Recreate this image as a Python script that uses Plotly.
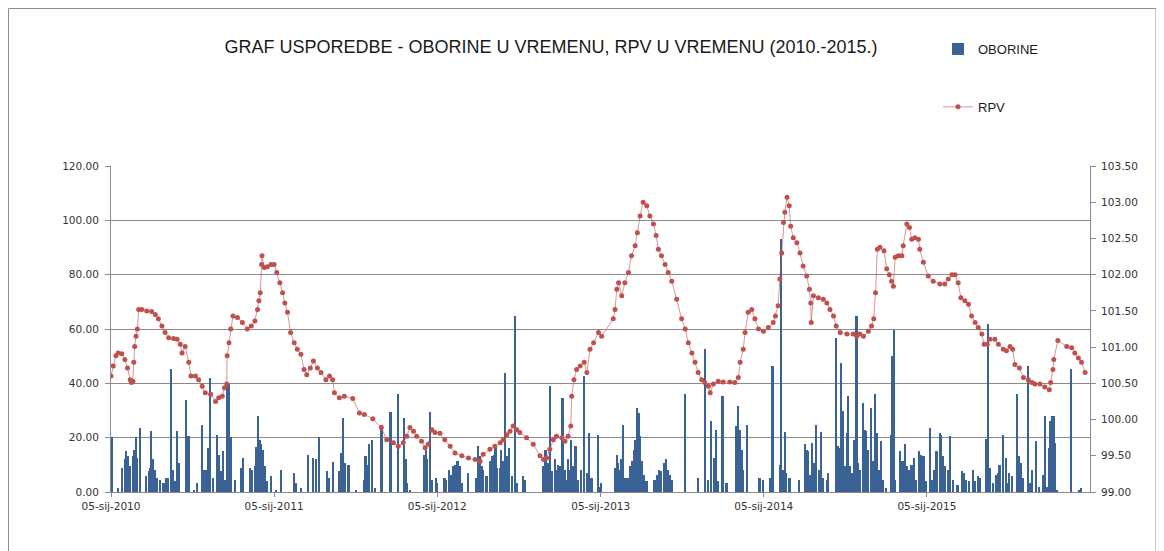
import pandas as pd
import plotly.graph_objects as go

# ---- data ----
start_date = "2010-01-05"

# RPV: day offset from start_date, value (m)
rpv_day = [0, 5, 11, 16, 24, 31, 37, 43, 46, 49, 51, 53, 56, 59, 62, 69, 80, 91, 99, 106,
           114, 121, 129, 140, 148, 155, 159, 166, 174, 179, 189, 196, 204, 211, 223, 234, 241, 249, 254, 259,
           260, 264, 268, 273, 283, 294, 305, 314, 322, 328, 331, 334, 337, 338, 343, 350, 358, 365, 371, 378,
           384, 389, 395, 402, 410, 417, 425, 432, 438, 446, 453, 462, 470, 481, 489, 496, 500, 511, 522, 541,
           556, 567, 586, 605, 617, 632, 643, 654, 662, 669, 677, 684, 695, 703, 710, 718, 725, 736, 747, 759,
           770, 785, 800, 815, 826, 833, 848, 859, 871, 878, 886, 893, 900, 908, 915, 930, 945, 960, 968, 975,
           982, 990, 997, 1009, 1016, 1023, 1029, 1031, 1036, 1042, 1050, 1059, 1065, 1072, 1080, 1091, 1098, 1124, 1128, 1132,
           1136, 1143, 1150, 1158, 1165, 1173, 1178, 1184, 1191, 1199, 1206, 1214, 1220, 1225, 1232, 1240, 1247, 1255, 1266, 1277,
           1285, 1292, 1300, 1307, 1314, 1322, 1329, 1337, 1341, 1348, 1359, 1370, 1385, 1396, 1404, 1408, 1415, 1419, 1426, 1434,
           1441, 1449, 1460, 1471, 1482, 1487, 1493, 1497, 1501, 1505, 1508, 1513, 1518, 1521, 1527, 1535, 1542, 1549, 1557, 1563,
           1566, 1567, 1572, 1583, 1594, 1602, 1609, 1617, 1623, 1632, 1647, 1661, 1669, 1676, 1684, 1695, 1702, 1707, 1711, 1715,
           1721, 1730, 1736, 1742, 1747, 1751, 1755, 1762, 1770, 1773, 1781, 1787, 1792, 1799, 1807, 1810, 1818, 1829, 1840, 1855,
           1866, 1874, 1882, 1889, 1896, 1902, 1911, 1919, 1926, 1934, 1941, 1949, 1954, 1961, 1967, 1978, 1986, 1997, 2004, 2012,
           2018, 2023, 2033, 2042, 2053, 2061, 2068, 2079, 2090, 2100, 2103, 2108, 2110, 2119, 2139, 2150, 2157, 2165, 2172, 2180]
rpv_val = [100.60, 100.74, 100.88, 100.92, 100.91, 100.83, 100.71, 100.55, 100.51, 100.53, 100.79, 101.01, 101.15, 101.25, 101.52, 101.52, 101.50, 101.49, 101.45, 101.39,
           101.29, 101.20, 101.13, 101.12, 101.11, 101.04, 100.92, 101.01, 100.79, 100.60, 100.60, 100.55, 100.46, 100.37, 100.35, 100.25, 100.30, 100.32, 100.44, 100.49,
           100.88, 101.06, 101.25, 101.43, 101.41, 101.34, 101.25, 101.29, 101.36, 101.52, 101.64, 101.75, 102.14, 102.26, 102.10, 102.11, 102.14, 102.14, 102.03, 101.89,
           101.75, 101.61, 101.48, 101.20, 101.06, 100.97, 100.90, 100.69, 100.62, 100.71, 100.81, 100.71, 100.65, 100.55, 100.60, 100.55, 100.37, 100.30, 100.32, 100.29,
           100.09, 100.07, 100.01, 99.89, 99.72, 99.68, 99.63, 99.68, 99.77, 99.89, 99.84, 99.77, 99.70, 99.61, 99.66, 99.86, 99.82, 99.81, 99.72, 99.63,
           99.54, 99.50, 99.47, 99.45, 99.42, 99.52, 99.59, 99.63, 99.68, 99.72, 99.79, 99.84, 99.91, 99.86, 99.82, 99.75, 99.66, 99.50, 99.45, 99.47,
           99.59, 99.72, 99.77, 99.75, 99.70, 99.77, 99.91, 100.32, 100.55, 100.69, 100.74, 100.79, 100.65, 100.97, 101.06, 101.20, 101.15, 101.39, 101.52, 101.80,
           101.89, 101.71, 101.89, 102.03, 102.26, 102.40, 102.58, 102.81, 103.00, 102.95, 102.81, 102.70, 102.54, 102.35, 102.26, 102.14, 102.03, 101.91, 101.66, 101.39,
           101.25, 101.06, 100.92, 100.79, 100.65, 100.55, 100.51, 100.46, 100.37, 100.49, 100.53, 100.52, 100.52, 100.51, 100.58, 100.79, 100.97, 101.20, 101.48, 101.52,
           101.39, 101.25, 101.22, 101.27, 101.34, 101.43, 101.57, 101.94, 102.30, 102.72, 102.86, 103.07, 102.95, 102.67, 102.51, 102.44, 102.30, 102.12, 101.98, 101.80,
           101.61, 101.34, 101.71, 101.68, 101.66, 101.61, 101.52, 101.43, 101.29, 101.20, 101.18, 101.18, 101.15, 101.18, 101.15, 101.22, 101.29, 101.39, 101.75, 102.35,
           102.38, 102.33, 102.08, 102.00, 101.91, 101.84, 102.24, 102.26, 102.26, 102.40, 102.70, 102.65, 102.49, 102.51, 102.49, 102.35, 102.17, 101.98, 101.91, 101.87,
           101.87, 101.94, 102.00, 102.00, 101.89, 101.68, 101.64, 101.59, 101.43, 101.34, 101.27, 101.18, 101.04, 101.04, 101.11, 101.11, 101.04, 100.97, 100.95, 101.01,
           100.97, 100.76, 100.71, 100.58, 100.55, 100.51, 100.49, 100.49, 100.45, 100.41, 100.51, 100.69, 100.83, 101.09, 101.01, 100.99, 100.92, 100.85, 100.79, 100.65]

# OBORINE: day offset from start_date, precipitation
obor_day = [3, 16, 26, 31, 35, 39, 43, 49, 52, 56, 59, 65, 79, 85, 89, 91, 95, 99, 103, 110,
            118, 123, 129, 134, 139, 145, 149, 153, 168, 174, 187, 194, 204, 209, 213, 217, 223, 228, 238, 242,
            247, 251, 255, 260, 265, 269, 279, 292, 296, 311, 316, 322, 325, 330, 334, 337, 340, 345, 350, 358,
            369, 382, 410, 414, 425, 441, 453, 459, 466, 483, 489, 498, 511, 515, 519, 524, 530, 534, 549, 566,
            570, 573, 577, 585, 591, 606, 626, 642, 656, 660, 663, 670, 701, 705, 708, 714, 718, 727, 731, 747,
            751, 756, 761, 766, 770, 774, 777, 781, 787, 800, 818, 822, 826, 830, 833, 841, 848, 853, 857, 861,
            865, 871, 874, 878, 882, 886, 891, 897, 904, 908, 923, 927, 968, 973, 979, 984, 988, 994, 997, 1001,
            1006, 1011, 1016, 1020, 1023, 1027, 1031, 1035, 1040, 1046, 1052, 1059, 1065, 1070, 1076, 1091, 1094, 1098, 1128, 1132,
            1136, 1139, 1143, 1147, 1152, 1158, 1163, 1167, 1171, 1174, 1178, 1182, 1185, 1189, 1193, 1199, 1217, 1223, 1227, 1232,
            1238, 1242, 1247, 1251, 1256, 1285, 1314, 1329, 1337, 1344, 1350, 1354, 1359, 1369, 1378, 1400, 1404, 1408, 1412, 1415,
            1423, 1452, 1460, 1475, 1481, 1499, 1501, 1504, 1508, 1512, 1519, 1540, 1553, 1557, 1561, 1564, 1570, 1573, 1579, 1585,
            1589, 1594, 1602, 1605, 1623, 1628, 1632, 1635, 1639, 1643, 1647, 1650, 1654, 1658, 1663, 1669, 1673, 1677, 1684, 1688,
            1691, 1695, 1702, 1706, 1711, 1715, 1719, 1723, 1728, 1735, 1746, 1749, 1753, 1756, 1766, 1772, 1777, 1782, 1786, 1792,
            1797, 1802, 1808, 1814, 1819, 1824, 1833, 1837, 1843, 1848, 1855, 1859, 1862, 1868, 1873, 1879, 1884, 1895, 1906, 1909,
            1915, 1920, 1930, 1934, 1941, 1946, 1960, 1963, 1967, 1975, 1982, 1985, 1989, 1997, 2003, 2008, 2011, 2016, 2028, 2033,
            2037, 2042, 2053, 2058, 2061, 2071, 2077, 2086, 2090, 2095, 2100, 2103, 2107, 2110, 2114, 2118, 2150, 2168, 2172]
obor_val = [20.3, 1.5, 8.9, 12.0, 15.0, 13.2, 9.5, 13.2, 15.6, 20.3, 12.5, 23.6, 5.8, 7.6, 8.9, 22.6, 12.0, 8.2, 5.2, 4.5,
            3.3, 5.2, 5.2, 45.1, 8.2, 3.9, 22.6, 10.7, 34.0, 20.5, 0.9, 3.3, 24.5, 8.2, 8.2, 16.2, 42.0, 5.2, 21.1, 13.8,
            7.6, 15.0, 4.5, 40.2, 39.6, 20.3, 4.5, 8.9, 12.5, 8.9, 8.2, 9.5, 16.6, 27.9, 19.3, 17.5, 15.6, 9.5, 3.9, 5.8,
            0.9, 8.2, 7.0, 3.3, 1.5, 13.5, 12.5, 12.0, 20.3, 7.6, 5.2, 11.1, 7.6, 14.4, 27.3, 10.7, 10.1, 10.1, 0.9, 4.5,
            13.2, 10.1, 17.5, 19.3, 1.5, 24.8, 29.5, 35.9, 27.3, 12.0, 3.3, 0.9, 13.8, 15.6, 12.0, 29.5, 4.5, 5.2, 3.3, 5.2,
            4.5, 8.2, 6.4, 9.5, 10.1, 11.3, 11.3, 9.5, 3.3, 7.0, 5.2, 16.8, 13.2, 9.5, 8.2, 5.8, 11.3, 13.2, 13.8, 16.8,
            8.9, 8.9, 15.6, 11.3, 43.9, 13.2, 16.2, 5.8, 64.8, 3.3, 5.8, 4.5, 9.5, 15.6, 10.7, 39.0, 7.6, 12.0, 8.2, 10.1,
            9.5, 34.7, 8.2, 4.5, 12.0, 8.2, 19.3, 9.5, 16.8, 4.5, 8.2, 42.7, 7.0, 21.8, 5.2, 21.1, 2.0, 3.3, 8.9, 13.8,
            10.7, 8.2, 12.0, 24.8, 5.2, 5.2, 9.5, 11.3, 15.6, 19.3, 31.0, 29.1, 20.5, 11.3, 6.4, 3.9, 4.5, 6.4, 8.2, 7.6,
            10.7, 12.0, 8.2, 6.4, 4.5, 35.9, 5.2, 52.5, 4.5, 26.1, 12.5, 23.0, 3.9, 35.3, 3.3, 24.2, 31.6, 23.0, 15.6, 8.2,
            24.8, 5.2, 4.5, 5.2, 46.3, 10.1, 93.0, 8.2, 22.0, 7.0, 5.2, 4.5, 17.5, 15.6, 15.0, 6.4, 18.1, 10.7, 24.5, 8.2,
            22.0, 5.0, 4.5, 7.0, 56.8, 16.8, 16.2, 47.6, 29.7, 9.5, 21.8, 35.3, 9.5, 7.0, 19.3, 64.8, 10.7, 8.2, 32.8, 23.0,
            22.4, 15.6, 31.0, 11.3, 35.9, 21.8, 8.2, 18.7, 4.5, 1.5, 21.1, 50.0, 59.6, 4.5, 15.0, 11.3, 17.5, 9.5, 8.2, 10.1,
            12.5, 4.5, 15.0, 13.8, 13.2, 3.9, 23.6, 4.5, 8.2, 15.0, 21.8, 21.1, 13.2, 9.5, 8.2, 20.5, 4.5, 2.7, 7.6, 7.0,
            4.5, 3.9, 8.2, 3.9, 5.8, 5.2, 19.5, 61.7, 8.9, 3.3, 6.4, 7.0, 10.1, 21.1, 12.5, 3.3, 7.0, 5.8, 35.9, 13.2,
            10.7, 5.2, 46.3, 3.3, 8.2, 18.7, 2.0, 6.4, 27.9, 2.0, 16.2, 26.1, 27.9, 27.9, 18.1, 0.9, 45.1, 0.9, 1.5]

tick_dates = ["2010-01-05", "2011-01-05", "2012-01-05", "2013-01-05", "2014-01-05", "2015-01-05"]
tick_labels = ["05-sij-2010", "05-sij-2011", "05-sij-2012", "05-sij-2013", "05-sij-2014", "05-sij-2015"]
x_end = "2016-01-05"

title_text = "GRAF USPOREDBE - OBORINE U VREMENU, RPV U VREMENU (2010.-2015.)"

# ---- build ----
base = pd.Timestamp(start_date)
rpv_x = base + pd.to_timedelta(rpv_day, unit="D")
obor_x = base + pd.to_timedelta(obor_day, unit="D")

# the page body has an 8 px margin; work in figure coordinates = screen - 8
OFF = 8
W, H = 1164 - OFF, 551 - OFF
L_PX, R_PX, T_PX, B_PX = 111 - OFF, 1090 - OFF, 166 - OFF, 492 - OFF

def px_to_paper_x(px):  # px given in screen coordinates
    return (px - OFF - L_PX) / (R_PX - L_PX)

def px_to_paper_y(py):
    return (B_PX - (py - OFF)) / (B_PX - T_PX)

tick_font = dict(family="DejaVu Sans", size=10.5, color="#333333")
grid_col = "#8a8a8a"
narrow = "Liberation Sans Narrow, Liberation Sans, Arial, sans-serif"

fig = go.Figure()
fig.add_trace(go.Bar(
    x=obor_x, y=obor_val, name="OBORINE",
    marker=dict(color="#3a6294", line=dict(width=0)),
    width=3.6 * 86400000,
    legendgroup="a", yaxis="y",
))
fig.add_trace(go.Scatter(
    x=rpv_x, y=rpv_val, name="RPV", mode="lines+markers",
    line=dict(color="rgba(192,80,77,0.6)", width=1),
    marker=dict(color="#C0504D", size=5, line=dict(width=0)),
    legendgroup="b", yaxis="y2",
))

fig.update_layout(
    width=W, height=H,
    margin=dict(l=L_PX, r=W - R_PX, t=T_PX, b=H - B_PX),
    paper_bgcolor="white", plot_bgcolor="white",
    bargap=0,
    title=dict(text=title_text, x=(551 - OFF) / W, xanchor="center", xref="container",
               y=1 - (47 - OFF) / H, yanchor="middle", yref="container",
               font=dict(family=narrow, size=18, color="#1a1a1a")),
    legend=dict(x=px_to_paper_x(938), y=px_to_paper_y(34), xanchor="left", yanchor="top",
                traceorder="grouped", tracegroupgap=38,
                font=dict(family=narrow, size=13, color="#1a1a1a"),
                bgcolor="rgba(0,0,0,0)"),
    xaxis=dict(type="date", range=[start_date, x_end], tickvals=tick_dates, ticktext=tick_labels,
               showgrid=False, showline=True, linecolor=grid_col, linewidth=1,
               ticks="outside", ticklen=4, tickcolor=grid_col, tickfont=tick_font, zeroline=False),
    yaxis=dict(range=[0, 120], dtick=20, tickformat=".2f", showgrid=True, gridcolor=grid_col, gridwidth=1,
               showline=True, linecolor=grid_col, linewidth=1, ticks="outside", ticklen=5, tickcolor=grid_col,
               tickfont=tick_font, zeroline=False, ticklabelstandoff=4),
    yaxis2=dict(range=[99, 103.5], dtick=0.5, tickformat=".2f", overlaying="y", side="right",
                showgrid=False, showline=True, linecolor=grid_col, linewidth=1, ticks="outside", ticklen=5,
                tickcolor=grid_col, tickfont=tick_font, zeroline=False, ticklabelstandoff=3),
    shapes=[dict(type="rect", xref="paper", yref="paper",
                 x0=px_to_paper_x(8.5), x1=px_to_paper_x(1156),
                 y0=px_to_paper_y(560), y1=px_to_paper_y(8.5),
                 line=dict(color="#8c8c8c", width=1), fillcolor="rgba(0,0,0,0)", layer="below")],
    showlegend=True,
)

fig.write_html("out.html")
